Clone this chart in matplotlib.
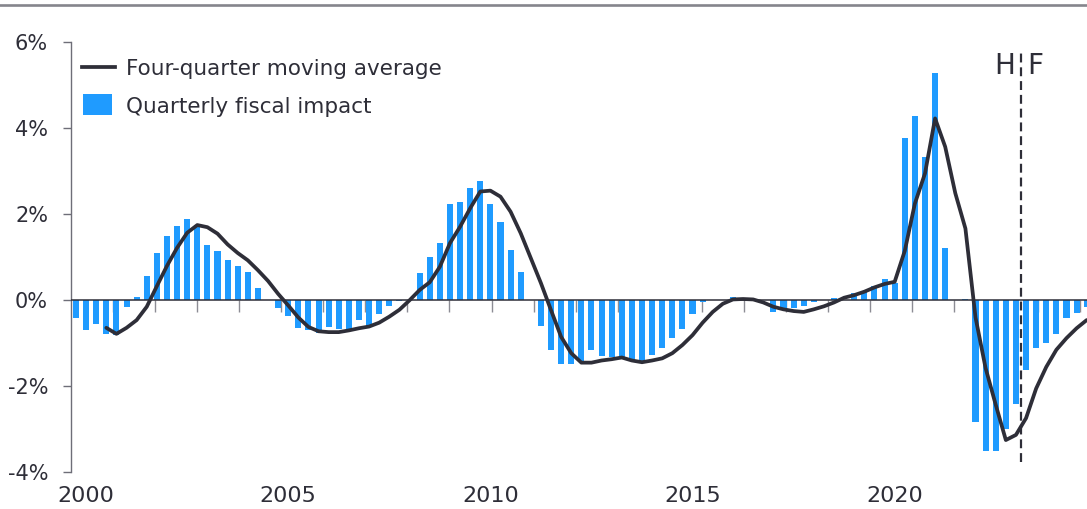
import numpy as np
import matplotlib.pyplot as plt
from matplotlib.lines import Line2D
from matplotlib.patches import Rectangle

# quarterly data, index 0 = 2000Q1 ... 100 = 2025Q1
quarters = list(range(101))
fiscal_impact = [
    -0.40, -0.69, -0.55, -0.78, -0.81, -0.16, 0.08, 0.56, 1.10, 1.50,
    1.73, 1.88, 1.75, 1.29, 1.15, 0.94, 0.80, 0.65, 0.29, 0.00,
    -0.19, -0.37, -0.65, -0.70, -0.76, -0.63, -0.66, -0.66, -0.45, -0.60,
    -0.31, -0.13, -0.02, 0.00, 0.63, 1.00, 1.33, 2.23, 2.29, 2.62,
    2.77, 2.24, 1.81, 1.16, 0.65, 0.00, -0.59, -1.16, -1.49, -1.49,
    -1.40, -1.16, -1.29, -1.31, -1.37, -1.39, -1.41, -1.27, -1.12, -0.88,
    -0.67, -0.33, -0.05, 0.00, 0.00, 0.07, 0.02, 0.00, 0.00, -0.27,
    -0.17, -0.18, -0.13, -0.05, 0.00, 0.05, 0.00, 0.16, 0.22, 0.33,
    0.49, 0.40, 3.77, 4.29, 3.33, 5.28, 1.22, 0.00, 0.02, -2.82,
    -3.50, -3.50, -2.99, -2.41, -1.62, -1.12, -1.00, -0.78, -0.42, -0.30,
    -0.15,
]

# four-quarter moving average starts at 2000Q4
ma_quarters = list(range(3, 101))
moving_avg = [
    -0.64, -0.78, -0.64, -0.46, -0.15, 0.33, 0.80, 1.22, 1.57, 1.75,
    1.70, 1.55, 1.30, 1.10, 0.93, 0.70, 0.45, 0.15, -0.12, -0.40,
    -0.62, -0.72, -0.74, -0.74, -0.70, -0.65, -0.61, -0.52, -0.38, -0.22,
    0.00, 0.24, 0.42, 0.78, 1.33, 1.71, 2.14, 2.53, 2.55, 2.41,
    2.06, 1.56, 0.98, 0.40, -0.23, -0.85, -1.23, -1.45, -1.45, -1.40,
    -1.37, -1.33, -1.40, -1.44, -1.40, -1.35, -1.23, -1.04, -0.81, -0.52,
    -0.27, -0.08, 0.02, 0.03, 0.02, -0.05, -0.15, -0.21, -0.25, -0.27,
    -0.21, -0.14, -0.05, 0.06, 0.12, 0.20, 0.30, 0.38, 0.43, 1.15,
    2.25, 2.95, 4.23, 3.57, 2.49, 1.67, -0.40, -1.58, -2.43, -3.25,
    -3.13, -2.74, -2.05, -1.55, -1.15, -0.88, -0.65, -0.46,
]

year_labels = ["2000", "2005", "2010", "2015", "2020"]
year_pos = [1, 21, 41, 61, 81]
y_ticks = [-4, -2, 0, 2, 4, 6]
split_pos = 93.5  # history | forecast

BLUE = "#1f9bff"
DARK = "#2e2e38"
GREY = "#6e6e78"
W, H = 1087, 509

fig = plt.figure(figsize=(W / 100, H / 100), dpi=100)
ax = fig.add_axes([71 / W, (H - 472.3) / H, (W - 71) / W, 430 / H])
ax.set_xlim(-0.495, 100.03)
ax.set_ylim(-4, 6)

# small marks under the zero line
mark_pos = (71 + 42.05 * np.arange(1, 25) - 76) / 10.107
ax.vlines(mark_pos, -0.28, 0, color="#8c8c94", lw=1.0, zorder=1)

ax.bar(quarters, fiscal_impact, width=0.6, color=BLUE, lw=0, zorder=2)
ax.axhline(0, color=DARK, lw=1.1, zorder=3)
ax.plot(ma_quarters, moving_avg, color=DARK, lw=2.7, zorder=4,
        solid_joinstyle="round", solid_capstyle="round")

ax.axvline(split_pos, ymin=(4 - 3.75) / 10, ymax=(4 + 5.85) / 10,
           color=DARK, lw=1.6, ls=(0, (4, 2.2)), zorder=5)

for s in ["top", "right", "bottom"]:
    ax.spines[s].set_visible(False)
ax.spines["left"].set_color(GREY)
ax.spines["left"].set_linewidth(1.0)

ax.set_yticks(y_ticks)
ax.set_yticklabels([f"{v}%" for v in y_ticks])
ax.tick_params(axis="y", length=6, width=1, color=GREY, pad=10.5,
               labelsize=15, labelcolor=DARK)
ax.set_xticks(year_pos)
ax.set_xticklabels(year_labels)
ax.tick_params(axis="x", length=0, pad=10, labelsize=16, labelcolor=DARK)


def fx(x):
    return x / W


def fy(y):
    return 1 - y / H


# legend drawn by hand
fig.add_artist(Line2D([fx(82), fx(115)], [fy(67), fy(67)], color=DARK, lw=2.7,
                      transform=fig.transFigure))
fig.add_artist(Rectangle((fx(83), fy(115)), fx(29), 21 / H, color=BLUE,
                         lw=0, transform=fig.transFigure))
fig.text(fx(126), fy(75), "Four-quarter moving average", fontsize=15.5,
         color=DARK, va="baseline", ha="left")
fig.text(fx(126), fy(113), "Quarterly fiscal impact", fontsize=15.5,
         color=DARK, va="baseline", ha="left")

fig.text(fx(1015), fy(74.3), "H", fontsize=20, color=DARK, va="baseline", ha="right")
fig.text(fx(1027.5), fy(74.3), "F", fontsize=20, color=DARK, va="baseline", ha="left")

# thin rule at the top of the figure
fig.add_artist(Line2D([0, 1], [fy(4.6), fy(4.6)], color="#85858c", lw=1.9,
                      transform=fig.transFigure))

fig.savefig("out.png", dpi=100)
